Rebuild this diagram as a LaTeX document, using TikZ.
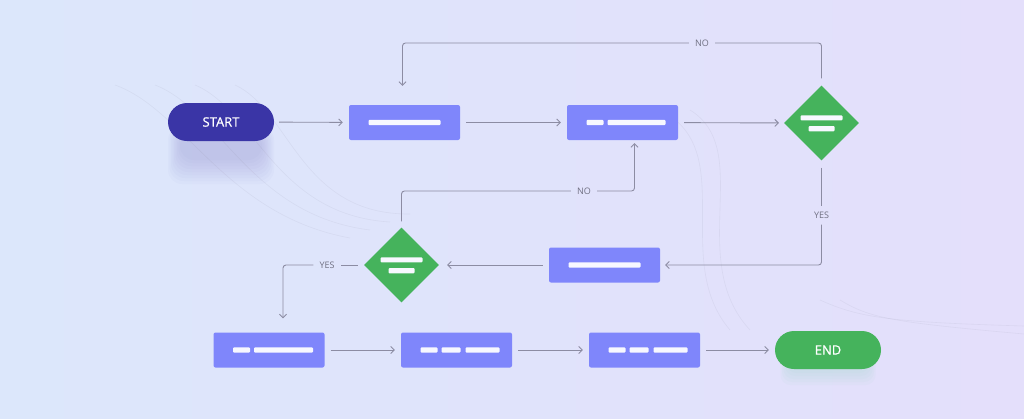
\documentclass[tikz,border=0pt]{standalone}
\usepackage{fontspec}
\setmainfont{Open Sans}
\newfontfamily\termfont[FakeBold=0.7]{Open Sans}
\usetikzlibrary{arrows.meta,calc,shapes.geometric}
\definecolor{indigo}{HTML}{3A35A6}
\definecolor{lilac}{HTML}{7F86FB}
\definecolor{leaf}{HTML}{45B35C}
\definecolor{wire}{HTML}{8C8CA3}
\definecolor{bgleft}{HTML}{DCE7FB}
\definecolor{bgright}{HTML}{E4DFFB}
\definecolor{glow}{HTML}{9FDCCB}

\tikzset{
  stepbox/.style={fill=lilac,rounded corners=2pt,minimum width=111pt,minimum height=35pt,inner sep=0pt},
  decision/.style={diamond,fill=leaf,minimum width=75pt,minimum height=75pt,inner sep=0pt},
  terminal/.style={rounded corners=19pt,minimum width=106pt,minimum height=38pt,inner sep=0pt,text=white,font=\termfont\fontsize{13}{15}\selectfont},
  wire/.style={draw=wire,line width=0.9pt,rounded corners=3pt},
  flow/.style={wire,-{Straight Barb[length=3.5pt,width=7pt]}},
  tag/.style={text=wire!80!black,font=\fontsize{9}{10}\selectfont,inner xsep=6pt,inner ysep=6pt},
  bar/.style={fill=white!94!lilac,rounded corners=1pt},
  swirl/.style={draw=wire,line width=0.6pt,opacity=0.11},
}

\begin{document}
\begin{tikzpicture}[x=1pt,y=-1pt]
\useasboundingbox (0,0) rectangle (1024,418);
\shade[left color=bgleft,right color=bgright] (0,0) rectangle (1024,418);

% faint swirls behind the chart
\foreach \k in {0,...,3}
  \draw[swirl] (115+\k*40,85) .. controls (185+\k*35,110) and (225+\k*25,215) .. (350+\k*20,238-\k*8);
\foreach \k in {0,...,1}
  \draw[swirl] (660+\k*30,110) .. controls (740+\k*15,150) and (670+\k*15,260) .. (730+\k*20,330);
\foreach \k in {0,...,1}
  \draw[swirl] (820+\k*20,300) .. controls (860+\k*10,318) and (890,322) .. (1024,326+\k*8);

% soft glow under the terminals
\foreach \s in {0,3,...,24}
  \fill[indigo,opacity=0.018,rounded corners=14pt] (180-\s/2,132-\s/4) rectangle (262+\s/2,160+\s);
\foreach \s in {0,3,...,15}
  \fill[glow,opacity=0.07,rounded corners=10pt] (788-\s/2,352-\s/4) rectangle (868+\s/2,370+\s);

% nodes
\node[terminal,fill=indigo] (start) at (221,122) {START};
\node[stepbox] (b1) at (404.5,122.5) {};
\node[stepbox] (b2) at (622.5,122.5) {};
\node[decision] (d1) at (821.5,123) {};
\node[stepbox] (b3) at (604.5,265) {};
\node[decision] (d2) at (401.5,265) {};
\node[stepbox] (b4) at (269,350) {};
\node[stepbox] (b5) at (456.5,350) {};
\node[stepbox] (b6) at (644.5,350) {};
\node[terminal,fill=leaf] (stop) at (828,350) {END};

% placeholder bars
\foreach \n/\segs in {b1/{-36/72},b2/{-36/17,-15/58},b3/{-36/72},b4/{-36/17,-15/59},b5/{-36/17,-15/19,9/34},b6/{-36/17,-15/19,9/34}}
  \foreach \x/\w in \segs
    \fill[bar] ($(\n)+(\x,-2.7)$) rectangle ++(\w,5.4);
\foreach \n in {d1,d2} {
  \fill[bar] ($(\n)+(-21,-7.7)$) rectangle ++(42,5);
  \fill[bar] ($(\n)+(-13,3)$) rectangle ++(26,5.3);
}

% labels on the wires
\node[tag] (no1) at (702,43) {NO};
\node[tag] (yes1) at (821.5,215) {YES};
\node[tag] (no2) at (584,191) {NO};
\node[tag] (yes2) at (327,265) {YES};

% connectors
\draw[flow,shorten <=5pt,shorten >=6pt] (start) -- (b1);
\draw[flow,shorten <=6pt,shorten >=6pt] (b1) -- (b2);
\draw[flow,shorten <=6pt,shorten >=5pt] (b2) -- (d1);
\draw[wire,shorten <=7pt] (d1.north) |- (no1.east);
\draw[flow,shorten >=19pt] (no1.west) -| ([xshift=-2pt]b1.north);
\draw[wire,shorten <=7pt] (d1.south) -- (yes1.north);
\draw[flow,shorten >=5pt] (yes1.south) |- (b3.east);
\draw[flow,shorten <=6pt,shorten >=8pt] (b3) -- (d2);
\draw[wire,shorten <=6pt] (d2.north) |- (no2.west);
\draw[flow,shorten >=3pt] (no2.east) -| ([xshift=12pt]b2.south);
\draw[wire,shorten <=6pt] (d2.west) -- (yes2.east);
\draw[flow,shorten >=14pt] (yes2.west) -| ([xshift=14pt]b4.north);
\draw[flow,shorten <=6pt,shorten >=6pt] (b4) -- (b5);
\draw[flow,shorten <=6pt,shorten >=6pt] (b5) -- (b6);
\draw[flow,shorten <=6pt,shorten >=6pt] (b6) -- (stop);
\end{tikzpicture}
\end{document}
